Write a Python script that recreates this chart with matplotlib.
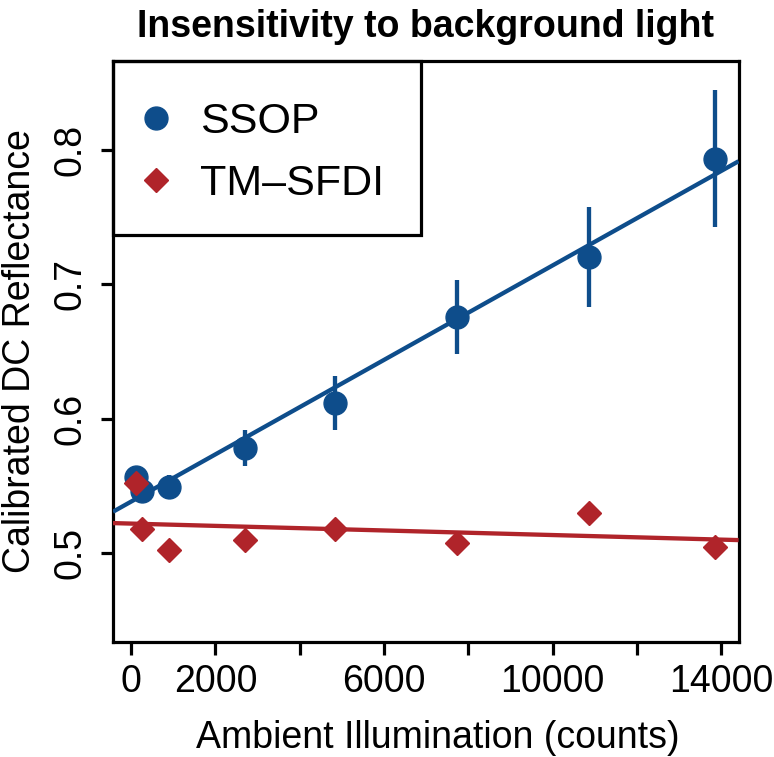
import numpy as np
import matplotlib
matplotlib.use('Agg')
import matplotlib.pyplot as plt
from matplotlib.patches import Rectangle

plt.rcParams['font.family'] = ['Liberation Sans', 'DejaVu Sans']

# ---- data ----
illum = [120, 250, 900, 2700, 4830, 7720, 10850, 13860]
ssop = [0.5565, 0.5462, 0.549, 0.578, 0.6115, 0.6756, 0.7203, 0.7932]
ssop_err = [0.005, 0.005, 0.009, 0.0135, 0.020, 0.0277, 0.037, 0.051]
tm_sfdi = [0.552, 0.5176, 0.502, 0.5094, 0.5176, 0.5074, 0.5294, 0.5044]

x_ticks = [0, 2000, 4000, 6000, 8000, 10000, 12000, 14000]
x_labels = ['0', '2000', '', '6000', '', '10000', '', '14000']
y_ticks = [0.5, 0.6, 0.7, 0.8]

BLUE = '#0E4D8B'
RED = '#B0242A'
LW = 2.3      # axes / ticks
LW_DATA = 3.1 # fit lines / error bars

W, H = 774, 757
fig = plt.figure(figsize=(W / 100, H / 100), dpi=100)
ax = fig.add_axes([113 / W, 1 - 641.7 / H, 625.6 / W, 580.7 / H])

x = np.array(illum)
# R-style 4% padding
xr = x.max() - x.min()
ax.set_xlim(x.min() - 0.04 * xr, x.max() + 0.04 * xr)
ax.set_ylim(0.45 - 0.016, 0.85 + 0.016)

# points + error bars
ax.plot(illum, ssop, 'o', color=BLUE, ms=16.5, zorder=3, label='SSOP')
ax.errorbar(illum, ssop, yerr=ssop_err, fmt='none', ecolor=BLUE,
            elinewidth=LW_DATA, capsize=0, zorder=4)
ax.plot(illum, tm_sfdi, 'D', color=RED, ms=12, zorder=5, label='TM\u2013SFDI')

# linear fits across the whole plot width
xx = np.array(ax.get_xlim())
for yv, c in [(ssop, BLUE), (tm_sfdi, RED)]:
    k, b = np.polyfit(illum, yv, 1)
    ax.plot(xx, k * xx + b, color=c, lw=LW_DATA, zorder=4, solid_capstyle='butt')
ax.set_xlim(xx)

# axes styling (base R look)
for s in ax.spines.values():
    s.set_linewidth(LW)
ax.set_xticks(x_ticks)
ax.set_xticklabels(x_labels)
ax.set_yticks(y_ticks)
ax.set_yticklabels([f'{v:.1f}' for v in y_ticks], rotation=90, va='center')
ax.tick_params(axis='both', length=9, width=LW, labelsize=27, direction='out')
ax.tick_params(axis='x', pad=7)
ax.tick_params(axis='y', pad=9)

ax.set_xlabel('Ambient Illumination (counts)', fontsize=27)
ax.xaxis.set_label_coords(0.52, -0.135)
ax.set_ylabel('Calibrated DC Reflectance', fontsize=27, labelpad=10)
ax.set_title('Insensitivity to background light', fontsize=27,
             fontweight='bold', pad=17)

# legend box
ax.add_patch(Rectangle((0, 0.700), 0.492, 0.30, transform=ax.transAxes,
                       fill=False, lw=LW, ec='black', zorder=6, clip_on=False))
ax.legend(loc='upper left', bbox_to_anchor=(0.0, 1.0 - 0.034), frameon=False,
          fontsize=31, handlelength=1.0, handletextpad=0.52,
          borderaxespad=0.0, borderpad=0.5, labelspacing=0.5)

plt.savefig('out.png', dpi=100)
